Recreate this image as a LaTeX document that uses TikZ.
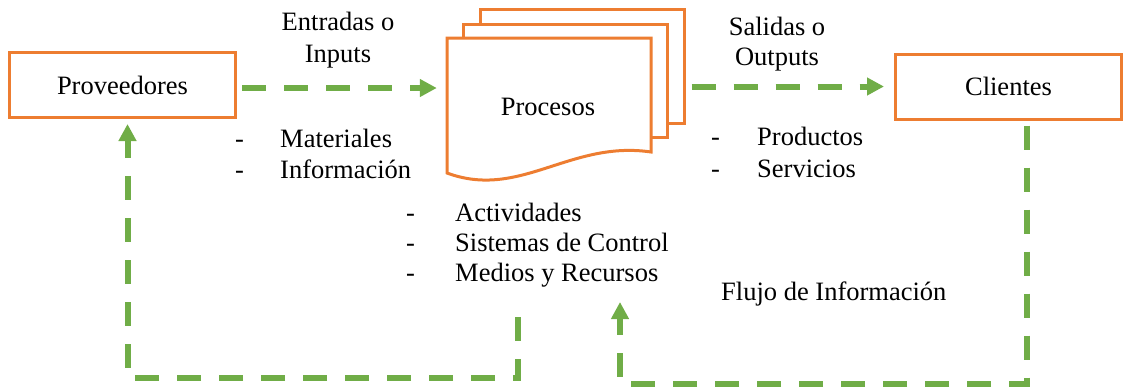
\documentclass[tikz,border=0pt]{standalone}
\usepackage{fontspec}
\setmainfont{Liberation Serif}
\usetikzlibrary{arrows.meta}
\definecolor{boxorange}{HTML}{ED7D31}
\definecolor{flowgreen}{HTML}{70AD47}
\tikzset{
  box/.style={draw=boxorange, line width=3pt, fill=white, inner sep=0pt,
    minimum width=226pt, minimum height=65pt},
  docbox/.style={draw=boxorange, line width=3pt, fill=white, inner sep=0pt},
  lbl/.style={inner sep=0pt, anchor=base},
  item/.style={inner sep=0pt, anchor=base west},
  flow/.style={draw=flowgreen, line width=6pt, line cap=butt, line join=miter,
    dash pattern=on 24pt off 18pt,
    -{Triangle[length=17pt, width=17pt, fill=flowgreen]}},
}
\begin{document}
\begin{tikzpicture}[x=1pt, y=-1pt, font=\fontsize{26.5}{31}\selectfont]
\useasboundingbox (0,0) rectangle (1128,389);

% end boxes
\node[box] (prov) at (122.5,85) {Proveedores};
\node[box] (cli)  at (1008.5,86.5) {Clientes};

% stacked documents for the process
\node[docbox, minimum width=204pt, minimum height=114pt] (doc3) at (582,66) {};
\node[docbox, minimum width=204pt, minimum height=113pt] (doc2) at (565,80.5) {};
\draw[docbox] (447,38) -- (651,38) -- (651,152)
  .. controls (570,140) and (520,200) .. (447,173) -- cycle;
\path node[inner sep=0pt, minimum width=204pt, minimum height=114pt] (front) at (549,95) {};
\node[lbl] (proc) at (548,115) {Procesos};

% labels of the flows
\node[lbl] (in1) at (338,30) {Entradas o};
\node[lbl] (in2) at (338,62) {Inputs};
\node[lbl] (out1) at (777,35) {Salidas o};
\node[lbl] (out2) at (777,65) {Outputs};

\node[item] (d1) at (235,147) {-};
\node[item] (t1) at (280,147) {Materiales};
\node[item] (d2) at (235,178) {-};
\node[item] (t2) at (280,178) {Información};

\node[item] (d3) at (711,145) {-};
\node[item] (t3) at (757,145) {Productos};
\node[item] (d4) at (711,177) {-};
\node[item] (t4) at (757,177) {Servicios};

\node[item] (d5) at (406,221) {-};
\node[item] (t5) at (455,221) {Actividades};
\node[item] (d6) at (406,251) {-};
\node[item] (t6) at (455,251) {Sistemas de Control};
\node[item] (d7) at (406,281) {-};
\node[item] (t7) at (455,281) {Medios y Recursos};

\node[item] (fl) at (721,300) {Flujo de Información};

% main flow
\draw[flow, shorten <=5pt, shorten >=10pt]
  ([yshift=-3pt]prov.east) -- ([yshift=-3pt]prov.east -| front.west);
\draw[flow, shorten <=6pt, shorten >=10pt]
  (cli.west -| doc3.east) -- (cli.west);

% information feedback
\coordinate (fbL) at (518,317);
\coordinate (fbR) at (620,302);
\draw[flow, shorten >=5pt]
  (fbL) -- (fbL |- 0,378) -| ([xshift=5pt]prov.south);
\draw[flow, shorten <=5pt]
  ([xshift=18.5pt]cli.south) -- ++(0,263) -| (fbR);
\end{tikzpicture}
\end{document}
